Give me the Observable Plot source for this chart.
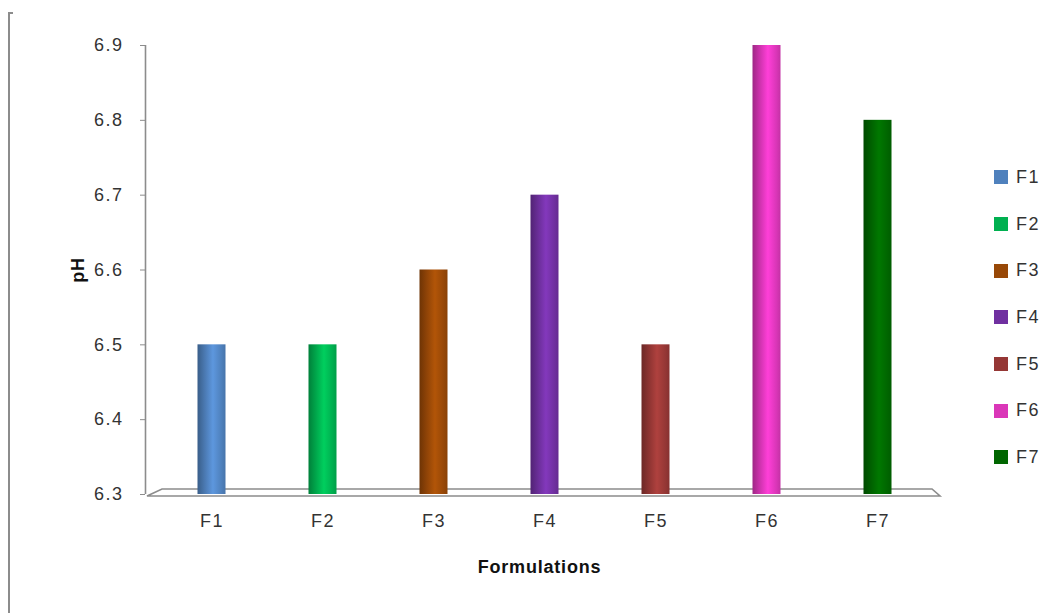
<!DOCTYPE html>
<html>
<head>
<meta charset="utf-8">
<script src="https://cdn.jsdelivr.net/npm/d3@7"></script>
<script src="https://cdn.jsdelivr.net/npm/@observablehq/plot@0.6"></script>
<style>
  html, body { margin: 0; padding: 0; background: #fff; }
  #wrap { position: relative; width: 1051px; height: 613px; overflow: hidden; }
  #border { position: absolute; left: 8px; top: 12px; bottom: -2px; border-left: 2px solid #8c8c8c; }
  #border::before { content: ""; position: absolute; left: 0; top: 0; width: 3px; border-top: 2px solid #8c8c8c; }
  #legend { position: absolute; left: 994px; top: 154px; font-family: "Liberation Sans", sans-serif; font-size: 18px; color: #333; letter-spacing: 1.5px; }
  .item { display: flex; align-items: center; height: 46.7px; }
  .sw { width: 14px; height: 14px; margin-right: 8px; }
</style>
</head>
<body>
<div id="wrap"><div id="border"></div><div id="legend"></div></div>
<script>
const formulations = ["F1", "F2", "F3", "F4", "F5", "F6", "F7"];
const phValues = [6.5, 6.5, 6.6, 6.7, 6.5, 6.9, 6.8];
const colors = ["#4F81BD", "#00B050", "#984807", "#7030A0", "#953735", "#DA36B8", "#006600"];
const yTicks = [6.3, 6.4, 6.5, 6.6, 6.7, 6.8, 6.9];

const data = formulations.map((f, i) => ({ name: f, ph: phValues[i], color: colors[i] }));

const floor = (index, scales, values, dimensions) => {
  const g = d3.create("svg:g");
  const y0 = scales.y(6.3);
  const L = dimensions.marginLeft, R = dimensions.width - dimensions.marginRight;
  const path = `M${L + 2},${y0 + 2} L${R + 7},${y0 + 2} L${R - 1},${y0 - 5} L${L + 17},${y0 - 5} Z`;
  g.append("path").attr("d", path).attr("fill", "none").attr("stroke", "#8c8c8c").attr("stroke-width", 1.6);
  return g.node();
};

const chart = Plot.plot({
  width: 1051,
  height: 613,
  marginLeft: 145,
  marginRight: 118,
  marginTop: 45,
  marginBottom: 119,
  style: { fontFamily: "Liberation Sans, sans-serif", fontSize: "18px", color: "#333", background: "transparent" },
  x: { domain: formulations, padding: 0, insetLeft: 11 },
  y: { domain: [6.3, 6.9] },
  marks: [
    floor,
    Plot.barY(data, { x: "name", y1: 6.3, y2: "ph", fill: "color", insetLeft: 41.5, insetRight: 41.5 }),
    Plot.axisY({ ticks: yTicks, tickFormat: d3.format(".1f"), tickSize: 5, tickPadding: 17, stroke: "#8c8c8c",
      label: "pH", labelAnchor: "center", labelArrow: "none", labelOffset: 74, fill: "#333", fontSize: 18 }),
    Plot.ruleX([formulations[0]], { y1: 6.3, y2: 6.9, stroke: "#8c8c8c", strokeWidth: 1.6, dx: -11 - 55.5 }),
    Plot.axisX({ tickSize: 0, tickPadding: 20, label: "Formulations", labelAnchor: "center", labelArrow: "none", labelOffset: 78, fill: "#333", fontSize: 18 })
  ]
});

// gradients for cylinder look
const svg = d3.select(chart);
const defs = svg.insert("defs", ":first-child");
colors.forEach((c, i) => {
  const base = d3.color(c);
  const grad = defs.append("linearGradient").attr("id", "cyl" + i).attr("x1", 0).attr("x2", 1).attr("y1", 0).attr("y2", 0);
  grad.append("stop").attr("offset", "0%").attr("stop-color", base.darker(0.9));
  grad.append("stop").attr("offset", "25%").attr("stop-color", base.darker(0.2));
  grad.append("stop").attr("offset", "55%").attr("stop-color", base.brighter(0.45));
  grad.append("stop").attr("offset", "85%").attr("stop-color", base);
  grad.append("stop").attr("offset", "100%").attr("stop-color", base.darker(0.3));
});
svg.selectAll('g[aria-label="bar"] rect').each(function(d, i) {
  d3.select(this).attr("fill", `url(#cyl${i})`);
});
svg.selectAll('g[aria-label="y-axis label"] text, g[aria-label="x-axis label"] text')
  .attr("font-weight", "bold").attr("fill", "#111").attr("letter-spacing", "0.8px");
svg.selectAll('g[aria-label="y-axis tick label"] text, g[aria-label="x-axis tick label"] text').attr("letter-spacing", "1.5px");

const wrap = document.getElementById("wrap");
wrap.insertBefore(chart, wrap.firstChild);

const legend = d3.select("#legend");
formulations.forEach((f, i) => {
  const it = legend.append("div").attr("class", "item");
  it.append("div").attr("class", "sw").style("background", colors[i]);
  it.append("div").text(f);
});
</script>
</body>
</html>
